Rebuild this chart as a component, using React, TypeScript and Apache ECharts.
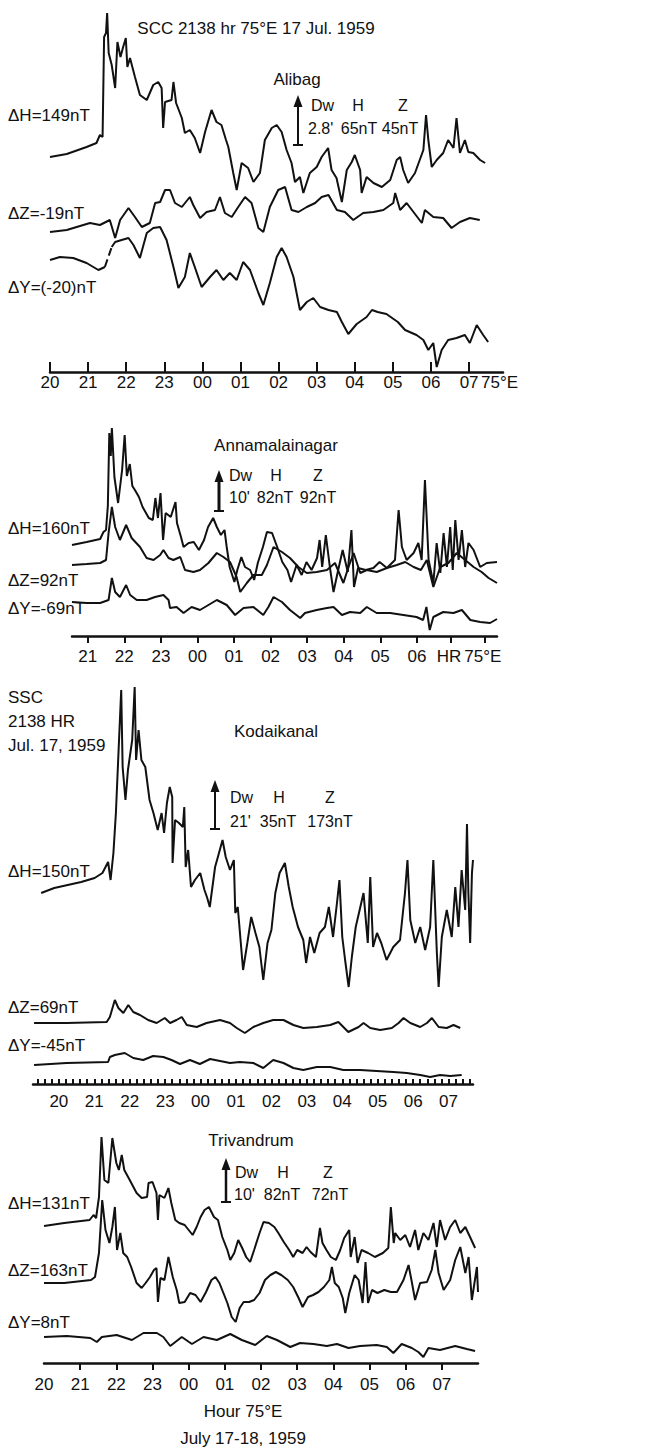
import React, { useEffect, useRef } from "react";
import * as echarts from "echarts";

const INK = "#111";
const FONT = "'Liberation Sans', Arial, Helvetica, sans-serif";

// ---------- Panel 1: Alibag (hour, deflection in plot units) ----------
const alibagH = [[20.0,215],[20.44,218],[20.96,225],[21.22,229],[21.31,237],[21.38,235],[21.42,335],[21.47,339],[21.5,359],[21.54,319],[21.62,307],[21.71,284],[21.77,330],[21.85,315],[21.92,325],[21.99,334],[22.03,305],[22.1,314],[22.23,295],[22.36,277],[22.54,272],[22.71,287],[22.84,290],[22.93,284],[22.97,244],[23.02,270],[23.19,272],[23.24,290],[23.31,269],[23.46,254],[23.54,239],[23.67,242],[23.8,234],[23.94,219],[24.07,240],[24.24,262],[24.37,250],[24.5,247],[24.62,232],[24.68,225],[24.81,199],[24.9,182],[25.03,209],[25.2,204],[25.34,190],[25.51,199],[25.64,232],[25.82,244],[25.95,247],[26.08,240],[26.21,222],[26.34,209],[26.43,190],[26.56,195],[26.65,179],[26.82,199],[27.0,205],[27.13,215],[27.3,224],[27.39,202],[27.52,194],[27.66,170],[27.79,202],[27.92,210],[28.0,217],[28.14,202],[28.18,179],[28.31,195],[28.49,189],[28.71,185],[28.93,192],[29.1,212],[29.19,215],[29.27,202],[29.4,189],[29.58,199],[29.8,222],[29.87,257],[29.93,232],[30.02,205],[30.15,212],[30.32,219],[30.45,232],[30.59,224],[30.67,254],[30.76,219],[30.89,232],[30.98,220],[31.11,219],[31.29,212],[31.42,209]];
const alibagZ = [[20.0,140],[20.44,142],[21.05,149],[21.31,147],[21.57,152],[21.71,134],[21.84,152],[22.06,164],[22.23,155],[22.41,145],[22.62,149],[22.76,169],[22.89,170],[23.02,182],[23.15,182],[23.28,169],[23.46,165],[23.67,175],[23.76,167],[23.94,154],[24.11,160],[24.33,162],[24.46,175],[24.59,159],[24.77,155],[24.94,165],[25.12,175],[25.29,169],[25.47,144],[25.6,140],[25.77,165],[25.99,182],[26.17,185],[26.34,162],[26.52,160],[26.74,165],[26.96,169],[27.13,175],[27.31,177],[27.53,162],[27.74,160],[27.96,152],[28.22,159],[28.49,160],[28.75,162],[29.01,169],[29.06,179],[29.19,162],[29.36,169],[29.54,160],[29.76,149],[29.84,162],[30.06,155],[30.32,154],[30.54,144],[30.76,150],[31.02,154],[31.28,152]];
const alibagY1 = [[20.0,112],[20.26,115],[20.61,114],[20.96,109],[21.27,102],[21.44,105]];
const alibagYgap = [[21.44,105],[21.62,125]];
const alibagY2 = [[21.62,125],[21.71,130],[21.88,132],[22.06,134],[22.19,127],[22.36,114],[22.54,139],[22.71,144],[22.89,145],[23.06,132],[23.24,105],[23.37,84],[23.54,95],[23.67,119],[23.8,105],[23.98,85],[24.2,95],[24.37,102],[24.55,92],[24.72,99],[24.9,92],[25.07,110],[25.25,102],[25.47,79],[25.6,67],[25.77,89],[25.95,115],[26.08,124],[26.21,115],[26.39,95],[26.56,62],[26.74,70],[26.91,74],[27.09,65],[27.31,62],[27.53,60],[27.66,50],[27.83,38],[28.05,48],[28.31,55],[28.45,62],[28.6,60],[28.83,58],[29.13,50],[29.32,42],[29.62,37],[29.8,32],[29.93,22],[30.06,29],[30.15,5],[30.28,22],[30.45,32],[30.67,34],[30.89,37],[31.02,29],[31.2,47],[31.37,37],[31.5,30]];

// ---------- Panel 2: Annamalainagar ----------
const annH = [[20.57,91],[20.97,94],[21.34,97],[21.43,104],[21.5,106],[21.55,130],[21.59,203],[21.63,180],[21.66,208],[21.73,159],[21.83,133],[21.94,166],[22.01,201],[22.07,160],[22.15,172],[22.22,150],[22.29,146],[22.4,139],[22.5,129],[22.67,118],[22.78,116],[22.85,138],[22.92,118],[22.99,143],[23.06,96],[23.13,123],[23.27,119],[23.4,134],[23.44,113],[23.55,99],[23.62,89],[23.76,93],[23.9,94],[24.04,86],[24.18,96],[24.29,109],[24.43,118],[24.53,109],[24.64,101],[24.74,106],[24.8,89],[24.88,69],[25.01,54],[25.09,66],[25.2,79],[25.3,69],[25.44,66],[25.55,56],[25.65,73],[25.79,89],[25.9,104],[26.04,103],[26.18,89],[26.32,74],[26.46,66],[26.56,54],[26.71,71],[26.85,61],[26.98,74],[27.12,66],[27.27,78],[27.34,96],[27.41,69],[27.51,101],[27.62,69],[27.72,44],[27.83,63],[27.97,86],[28.11,64],[28.21,106],[28.28,49],[28.39,68],[28.6,66],[28.81,68],[28.98,74],[29.18,68],[29.4,76],[29.5,126],[29.59,89],[29.72,76],[29.91,83],[30.04,93],[30.13,76],[30.22,156],[30.32,76],[30.45,53],[30.54,93],[30.64,63],[30.73,103],[30.82,69],[30.91,109],[30.98,66],[31.05,116],[31.14,76],[31.23,106],[31.32,69],[31.41,93],[31.55,86],[31.73,69],[31.91,73],[32.19,74]];
const annZ = [[20.57,71],[20.97,72],[21.34,73],[21.5,76],[21.57,103],[21.66,129],[21.75,109],[21.88,96],[22.05,111],[22.2,98],[22.43,89],[22.61,78],[22.8,76],[22.98,81],[23.07,86],[23.21,78],[23.34,76],[23.53,79],[23.66,66],[23.89,64],[24.07,66],[24.3,73],[24.53,83],[24.71,79],[24.89,74],[25.07,59],[25.17,44],[25.35,53],[25.53,61],[25.76,61],[25.9,71],[26.08,89],[26.31,84],[26.53,78],[26.76,69],[26.99,63],[27.26,64],[27.54,66],[27.76,73],[27.99,53],[28.13,69],[28.27,83],[28.45,63],[28.63,66],[28.9,64],[29.18,68],[29.45,71],[29.68,74],[29.91,69],[30.11,66],[30.27,76],[30.45,49],[30.64,69],[30.86,73],[31.09,83],[31.32,76],[31.55,69],[31.77,64],[31.96,58],[32.19,53]];
const annY = [[20.57,34],[20.97,33],[21.34,33],[21.57,36],[21.66,58],[21.75,44],[21.88,39],[22.05,51],[22.16,41],[22.34,36],[22.61,36],[22.84,39],[23.07,41],[23.21,36],[23.25,28],[23.43,29],[23.62,23],[23.84,29],[24.07,26],[24.3,31],[24.53,36],[24.8,31],[25.03,21],[25.26,28],[25.53,29],[25.8,21],[25.94,29],[26.08,39],[26.31,34],[26.53,26],[26.81,18],[26.94,23],[27.26,26],[27.54,28],[27.72,29],[27.95,21],[28.17,24],[28.45,23],[28.63,29],[28.9,23],[29.27,23],[29.63,21],[29.99,19],[30.17,16],[30.26,29],[30.35,6],[30.45,19],[30.72,24],[31.0,23],[31.23,26],[31.46,16],[31.73,14],[32.0,13],[32.19,17]];

// ---------- Panel 3: Kodaikanal ----------
const kodH = [[19.5,191],[19.87,196],[20.25,199],[20.63,202],[21.01,206],[21.23,211],[21.39,222],[21.46,204],[21.54,231],[21.61,271],[21.69,337],[21.76,394],[21.8,317],[21.88,284],[21.95,314],[22.07,344],[22.14,397],[22.18,324],[22.25,354],[22.33,324],[22.44,317],[22.56,284],[22.67,271],[22.79,254],[22.9,271],[22.97,251],[23.05,281],[23.13,297],[23.2,287],[23.21,221],[23.28,264],[23.39,261],[23.5,257],[23.54,277],[23.58,217],[23.65,234],[23.73,197],[23.84,204],[23.99,211],[24.11,194],[24.18,187],[24.26,177],[24.41,217],[24.52,231],[24.62,244],[24.71,227],[24.83,214],[24.94,224],[24.98,171],[25.05,177],[25.2,114],[25.32,141],[25.43,167],[25.55,151],[25.66,137],[25.77,104],[25.89,141],[26.0,154],[26.11,191],[26.23,211],[26.38,221],[26.49,197],[26.6,177],[26.75,157],[26.9,144],[26.98,121],[27.09,147],[27.21,131],[27.36,151],[27.51,157],[27.62,177],[27.74,147],[27.85,181],[27.92,204],[28.0,147],[28.08,124],[28.18,97],[28.27,127],[28.38,157],[28.49,174],[28.6,191],[28.72,141],[28.79,207],[28.87,137],[28.98,151],[29.1,141],[29.25,124],[29.44,137],[29.63,144],[29.77,191],[29.84,224],[29.92,164],[30.06,141],[30.2,157],[30.34,134],[30.48,157],[30.57,224],[30.67,131],[30.72,97],[30.81,147],[30.95,174],[31.09,147],[31.19,197],[31.28,157],[31.37,214],[31.47,174],[31.52,260],[31.56,191],[31.61,141],[31.66,211],[31.69,224]];
const kodZ = [[19.3,61],[20.22,61],[21.35,62],[21.44,67],[21.58,84],[21.68,76],[21.82,71],[21.96,79],[22.1,72],[22.29,69],[22.52,64],[22.76,61],[22.99,66],[23.14,61],[23.32,64],[23.47,67],[23.61,59],[23.89,57],[24.17,61],[24.55,64],[24.83,61],[25.02,56],[25.25,51],[25.49,57],[25.77,61],[26.05,64],[26.34,64],[26.62,59],[26.9,56],[27.28,57],[27.66,59],[27.89,62],[28.17,52],[28.46,57],[28.6,61],[28.79,56],[29.07,54],[29.4,56],[29.59,61],[29.73,66],[29.92,61],[30.2,57],[30.39,61],[30.53,66],[30.72,57],[30.95,56],[31.14,59],[31.33,56]];
const kodY = [[19.3,19],[20.22,21],[21.39,22],[21.44,27],[21.58,29],[21.86,31],[22.1,26],[22.38,24],[22.66,28],[22.95,27],[23.18,24],[23.42,20],[23.7,24],[23.98,20],[24.27,25],[24.55,23],[24.83,21],[25.11,22],[25.49,21],[25.77,16],[26.05,24],[26.34,21],[26.62,16],[26.9,14],[27.28,17],[27.66,17],[28.03,14],[28.5,14],[28.97,13],[29.44,12],[29.82,11],[30.2,9],[30.48,7],[30.76,9],[31.05,8],[31.37,9]];

// ---------- Panel 4: Trivandrum ----------
const triH = [[20.0,137],[20.56,140],[21.26,143],[21.37,148],[21.44,145],[21.52,166],[21.59,226],[21.67,183],[21.78,180],[21.89,225],[22.0,200],[22.07,193],[22.15,208],[22.22,193],[22.37,183],[22.56,170],[22.7,165],[22.85,166],[22.89,180],[23.0,181],[23.11,170],[23.15,143],[23.19,168],[23.33,165],[23.44,175],[23.52,160],[23.63,143],[23.74,140],[23.89,138],[24.0,133],[24.11,128],[24.22,136],[24.33,146],[24.44,153],[24.56,156],[24.7,146],[24.81,143],[24.93,126],[25.07,113],[25.15,103],[25.26,110],[25.37,123],[25.48,115],[25.59,106],[25.7,101],[25.81,113],[25.96,130],[26.07,141],[26.22,140],[26.37,136],[26.48,130],[26.63,121],[26.78,113],[26.89,106],[27.0,113],[27.15,110],[27.26,116],[27.37,111],[27.52,106],[27.63,135],[27.7,120],[27.81,113],[27.93,106],[28.07,103],[28.19,113],[28.3,125],[28.44,133],[28.48,106],[28.59,126],[28.67,100],[28.78,113],[28.96,110],[29.15,106],[29.37,110],[29.52,115],[29.59,156],[29.67,120],[29.71,130],[29.85,123],[29.99,128],[30.12,116],[30.26,133],[30.35,113],[30.49,130],[30.63,123],[30.77,140],[30.86,116],[30.95,143],[31.09,123],[31.23,136],[31.37,143],[31.51,130],[31.65,136],[31.78,126],[31.92,115]];
const triZ = [[20.0,80],[20.56,80],[21.3,83],[21.41,86],[21.52,110],[21.61,163],[21.7,133],[21.81,120],[21.89,136],[21.96,156],[22.02,113],[22.11,130],[22.19,110],[22.3,106],[22.41,96],[22.56,80],[22.7,75],[22.81,80],[22.93,86],[23.04,93],[23.11,95],[23.15,61],[23.22,85],[23.33,83],[23.44,106],[23.56,86],[23.67,73],[23.74,60],[23.89,61],[24.04,70],[24.19,68],[24.33,61],[24.48,71],[24.63,83],[24.74,86],[24.85,80],[24.96,70],[25.07,60],[25.19,46],[25.3,41],[25.41,55],[25.52,61],[25.67,61],[25.81,63],[25.96,70],[26.11,83],[26.26,88],[26.41,91],[26.56,88],[26.74,83],[26.89,76],[27.04,65],[27.15,56],[27.3,66],[27.44,68],[27.59,71],[27.74,76],[27.89,83],[27.96,96],[28.04,80],[28.15,76],[28.26,65],[28.33,50],[28.44,70],[28.59,88],[28.7,83],[28.81,60],[28.89,101],[28.96,60],[29.07,73],[29.22,70],[29.41,73],[29.59,71],[29.76,71],[29.94,83],[30.08,98],[30.17,81],[30.26,63],[30.4,80],[30.59,81],[30.72,93],[30.82,113],[30.91,90],[31.05,73],[31.23,83],[31.37,103],[31.51,116],[31.65,90],[31.74,106],[31.83,63],[31.97,96],[32.0,71]];
const triY = [[20.0,26],[20.63,27],[21.28,25],[21.46,21],[21.6,26],[22.01,28],[22.43,23],[22.75,30],[23.12,30],[23.3,26],[23.49,17],[23.81,26],[24.09,19],[24.41,26],[24.78,23],[25.15,29],[25.47,23],[25.84,18],[26.16,27],[26.44,23],[26.81,16],[27.08,20],[27.45,19],[27.82,17],[28.1,19],[28.42,15],[28.74,17],[29.2,18],[29.48,16],[29.66,10],[29.89,19],[30.17,15],[30.35,11],[30.49,6],[30.63,15],[30.95,13],[31.37,17],[31.69,14],[31.92,12]];

// ---------- tick values / labels ----------
const hours20to31 = [20, 21, 22, 23, 24, 25, 26, 27, 28, 29, 30, 31];
const hours21to31 = [21, 22, 23, 24, 25, 26, 27, 28, 29, 30, 31];
const annTicks = [21, 22, 23, 24, 25, 26, 27, 28, 29, 30, 30.92, 31.85];
const annLabels = [21, 22, 23, 24, 25, 26, 27, 28, 29, 30, 30.88, 31.8];
const alibagLabels = [20, 21, 22, 23, 24, 25, 26, 27, 28, 29, 30, 31, 31.8];

const hourText = (v: number) => {
  const h = Math.round(v) % 24;
  return (h < 10 ? "0" : "") + h;
};

function makeXAxis(
  gridIndex: number, min: number, max: number, tickVals: number[], labelVals: number[],
  inside: boolean, tickLen: number, margin: number, formatter: (v: number) => string
) {
  return {
    type: "value", gridIndex, min, max,
    axisLine: { show: true, onZero: false, lineStyle: { color: INK, width: 2.5 } },
    axisTick: { show: true, inside, length: tickLen, customValues: tickVals, lineStyle: { color: INK, width: 2 } },
    axisLabel: { show: true, customValues: labelVals, formatter, margin, color: INK, fontSize: 17, fontFamily: FONT },
    splitLine: { show: false },
    minorTick: { show: false },
  };
}

const kodTicks: number[] = [];
for (let t = 19.4; t < 31.65; t += 0.2) kodTicks.push(Math.round(t * 100) / 100);

const txt = (text: string, x: number, y: number, align: string = "left", size = 17) => ({
  type: "text", x, y, silent: true,
  style: { text, fill: INK, font: `${size}px ${FONT}`, textAlign: align, textVerticalAlign: "middle", align, verticalAlign: "middle" },
});
const arrow = (x: number, top: number, bottom: number, w = 2) => [
  { type: "line", silent: true, shape: { x1: x, y1: top + 8, x2: x, y2: bottom }, style: { stroke: INK, lineWidth: w } },
  { type: "polygon", silent: true, shape: { points: [[x, top], [x - 4.5, top + 12], [x + 4.5, top + 12]] }, style: { fill: INK } },
  { type: "line", silent: true, shape: { x1: x - 5, y1: bottom, x2: x + 5, y2: bottom }, style: { stroke: INK, lineWidth: 2 } },
];

const line = (data: number[][], idx: number, dashed = false) => ({
  type: "line", data, xAxisIndex: idx, yAxisIndex: idx, showSymbol: false, symbol: "none",
  clip: false, silent: true,
  lineStyle: { color: INK, width: 2, type: dashed ? "dashed" : "solid" },
});

const grids = [
  { left: 50, top: 0, width: 453, height: 372 },
  { left: 72, top: 400, width: 425, height: 236 },
  { left: 33, top: 680, width: 440, height: 404 },
  { left: 44, top: 1110, width: 434, height: 253 },
].map((g) => ({ ...g, containLabel: false, outerBoundsMode: "none" }));

const A = 16; // annotation font size

const option = {
  animation: false,
  backgroundColor: "#fff",
  grid: grids,
  xAxis: [
    makeXAxis(0, 20, 31.89, hours20to31, alibagLabels, true, 10, 2, (v) => (v > 31.5 ? "75°E" : hourText(v))),
    makeXAxis(1, 20.57, 32.19, annTicks, annLabels, false, 7, 12, (v) => (v > 31.5 ? "75°E" : v > 30.5 ? "HR" : hourText(v))),
    makeXAxis(2, 19.27, 31.69, kodTicks, hours20to31, true, 5, 9, hourText),
    makeXAxis(3, 20, 32, hours21to31, hours20to31, false, 7, 13, hourText),
  ],
  yAxis: grids.map((g, i) => ({ type: "value", gridIndex: i, min: 0, max: g.height, show: false })),
  series: [
    line(alibagH, 0), line(alibagZ, 0), line(alibagY1, 0), line(alibagYgap, 0, true), line(alibagY2, 0),
    line(annH, 1), line(annZ, 1), line(annY, 1),
    line(kodH, 2), line(kodZ, 2), line(kodY, 2),
    line(triH, 3), line(triZ, 3), line(triY, 3),
  ],
  graphic: [
    txt("SCC 2138 hr 75°E 17 Jul. 1959", 256, 28, "center"),
    txt("Alibag", 297, 79, "center"),
    ...arrow(298, 95, 145),
    txt("Dw", 311, 105, "left", A), txt("H", 358, 105, "center", A), txt("Z", 403, 105, "center", A),
    txt("2.8'", 308, 128, "left", A), txt("65nT", 359, 128, "center", A), txt("45nT", 400, 128, "center", A),
    txt("ΔH=149nT", 8, 115), txt("ΔZ=-19nT", 8, 213), txt("ΔY=(-20)nT", 8, 287),

    txt("Annamalainagar", 276, 445, "center"),
    ...arrow(219, 470, 511, 3),
    txt("Dw", 229, 475, "left", A), txt("H", 276, 475, "center", A), txt("Z", 318, 475, "center", A),
    txt("10'", 229, 497, "left", A), txt("82nT", 275, 497, "center", A), txt("92nT", 318, 497, "center", A),
    txt("ΔH=160nT", 8, 528), txt("ΔZ=92nT", 8, 580), txt("ΔY=-69nT", 8, 608),

    txt("SSC", 8, 697), txt("2138 HR", 8, 721), txt("Jul. 17, 1959", 8, 745),
    txt("Kodaikanal", 276, 731, "center"),
    ...arrow(215, 780, 829),
    txt("Dw", 230, 797, "left", A), txt("H", 279, 797, "center", A), txt("Z", 330, 797, "center", A),
    txt("21'", 230, 821, "left", A), txt("35nT", 278, 821, "center", A), txt("173nT", 330, 821, "center", A),
    txt("ΔH=150nT", 8, 871), txt("ΔZ=69nT", 8, 1007), txt("ΔY=-45nT", 8, 1045),

    txt("Trivandrum", 251, 1140, "center"),
    ...arrow(226, 1158, 1202, 2.5),
    txt("Dw", 235, 1172, "left", A), txt("H", 283, 1172, "center", A), txt("Z", 328, 1172, "center", A),
    txt("10'", 234, 1194, "left", A), txt("82nT", 282, 1194, "center", A), txt("72nT", 330, 1194, "center", A),
    txt("ΔH=131nT", 8, 1203), txt("ΔZ=163nT", 8, 1270), txt("ΔY=8nT", 8, 1322),
    txt("Hour 75°E", 243, 1411, "center"), txt("July 17-18, 1959", 243, 1438, "center"),
  ],
};

export default function App() {
  const ref = useRef<HTMLDivElement>(null);
  useEffect(() => {
    if (!ref.current) return;
    const chart = echarts.init(ref.current, null, { renderer: "svg" });
    chart.setOption(option as any);
    return () => chart.dispose();
  }, []);
  return (
    <div
      ref={ref}
      style={{ position: "absolute", left: 0, top: 0, width: 651, height: 1448, background: "#fff" }}
    />
  );
}
